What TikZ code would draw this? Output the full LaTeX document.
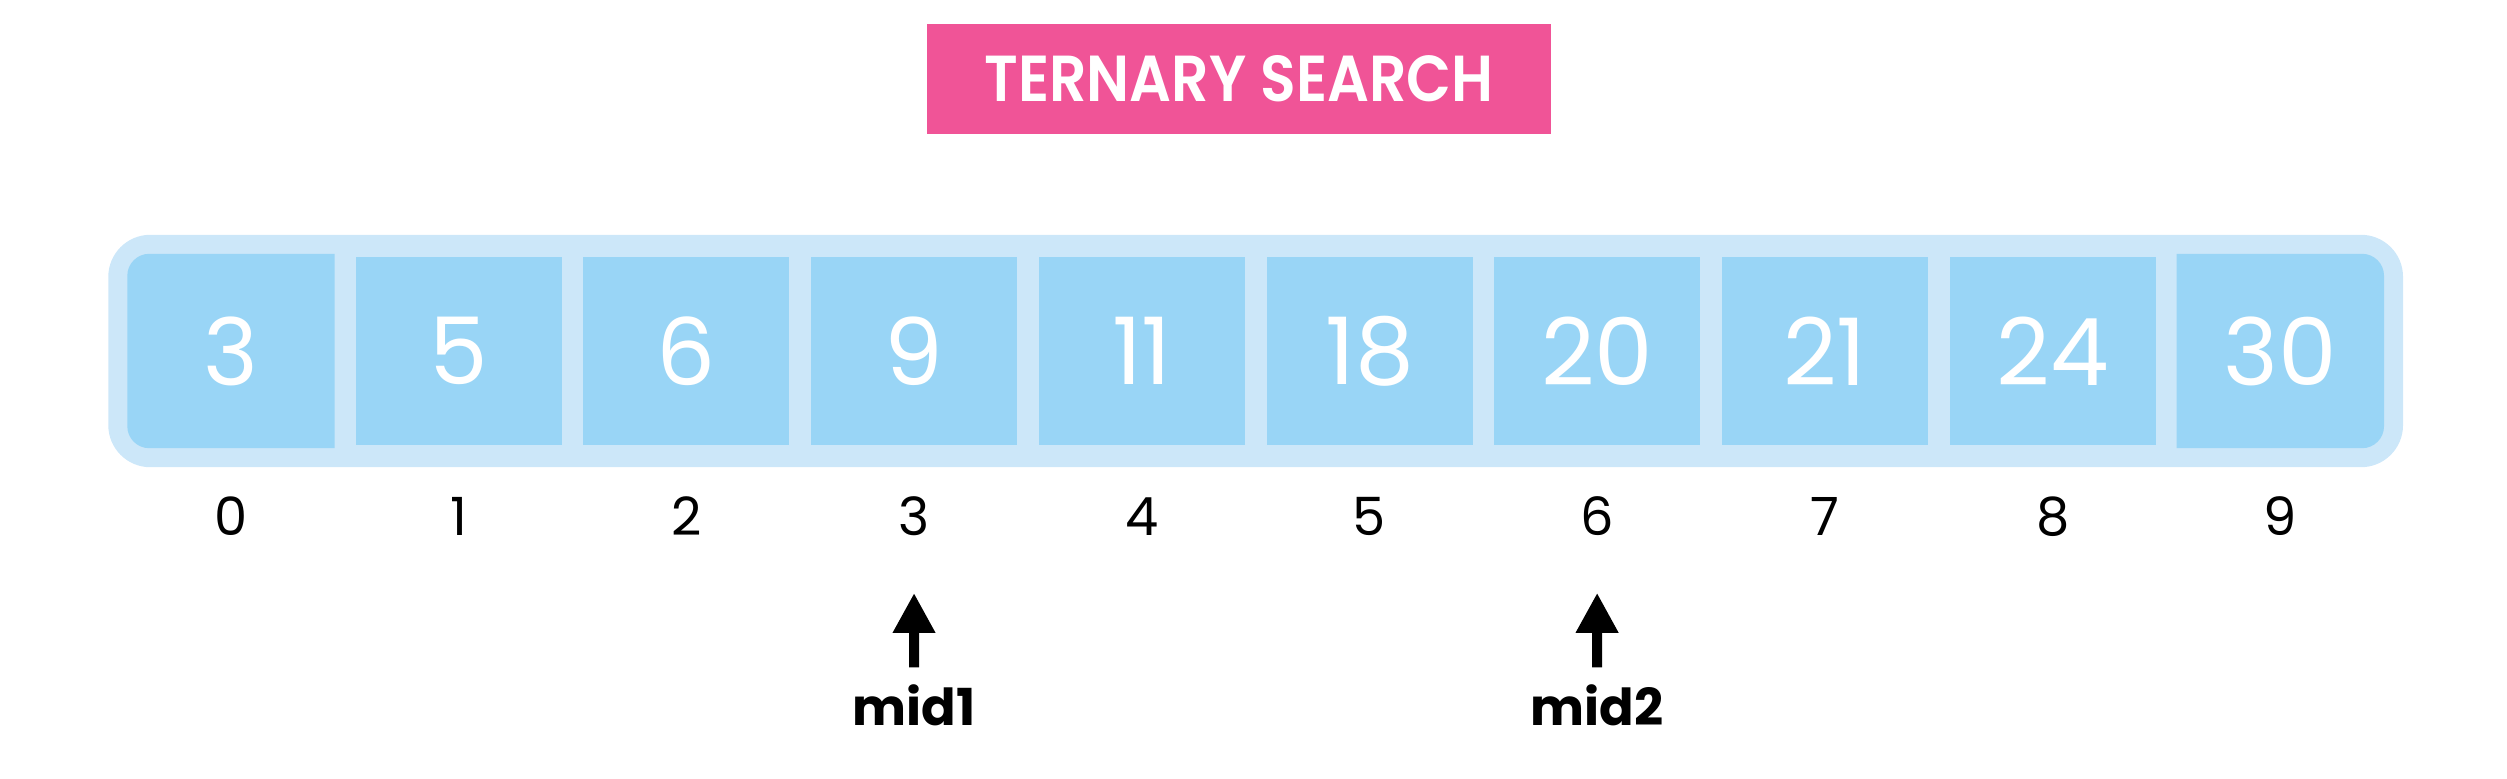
\documentclass[tikz,border=0pt]{standalone}
\usepackage{fontspec}
\setmainfont{Poppins}
\newfontfamily\titlefont{Poppins SemiBold}[FakeStretch=0.9]
\usepackage{xcolor}
\usetikzlibrary{arrows.meta,positioning,fit,backgrounds}
\definecolor{titlepink}{HTML}{F05497}
\definecolor{cellblue}{HTML}{99D5F6}
\definecolor{trayblue}{HTML}{CCE7F9}
\tikzset{
  titlebox/.style={
    fill=titlepink,
    text=white,
    minimum width=62.4mm,
    minimum height=11mm,
    font=\fontsize{18.5}{21}\titlefont
  },
  cellbox/.style={
    fill=cellblue,
    text=white,
    minimum width=20.6mm,
    minimum height=18.8mm,
    inner sep=0pt,
    font=\fontsize{26.5}{30}\selectfont
  },
  endcell/.style={
    cellbox,
    fill=none,
    minimum width=20.6mm,
    minimum height=19.3mm
  },
  idxlabel/.style={
    inner sep=0pt,
    anchor=base,
    font=\fontsize{15}{18}\selectfont
  },
  midlabel/.style={
    inner sep=0pt,
    anchor=base,
    font=\fontsize{14.5}{17}\selectfont\bfseries
  },
  ptrarrow/.style={
    -{Triangle[length=4mm,width=4mm]},
    line width=1mm,
    shorten >=5.7mm,
    shorten <=1.6mm
  }
}
\begin{document}
\begin{tikzpicture}[x=0.1mm,y=-0.1mm]
    \useasboundingbox (0,0) rectangle (2507,779);

    \node[titlebox] (title) at (1239,79) {TERNARY SEARCH};

    \foreach \val [count=\i from 0] in {3,5,6,9,11,18,20,21,24,30} {
      \ifnum\i=0
        \node[endcell] (c\i) at (231+227.7*\i,351) {\val};
      \else\ifnum\i=9
        \node[endcell] (c\i) at (231+227.7*\i,351) {\val};
      \else
        \node[cellbox] (c\i) at (231+227.7*\i,351) {\val};
      \fi\fi
      \node[idxlabel] (i\i) at (231+227.7*\i,535) {\i};
    }

    \begin{scope}[on background layer]
      \node[fit=(c0)(c9), inner sep=1.9mm, fill=trayblue, rounded corners=4.2mm] (tray) {};
      \fill[cellblue] (c0.north east) [rounded corners=2.2mm] -- (c0.north west) -- (c0.south west) [sharp corners] -- (c0.south east) -- cycle;
      \fill[cellblue] (c9.north west) [rounded corners=2.2mm] -- (c9.north east) -- (c9.south east) [sharp corners] -- (c9.south west) -- cycle;
    \end{scope}

    \node[midlabel] (mid1) at (914,725) {mid1};
    \node[midlabel] (mid2) at (1597,725) {mid2};

    \draw[ptrarrow] (mid1) -- (i3);
    \draw[ptrarrow] (mid2) -- (i6);
\end{tikzpicture}
\end{document}
